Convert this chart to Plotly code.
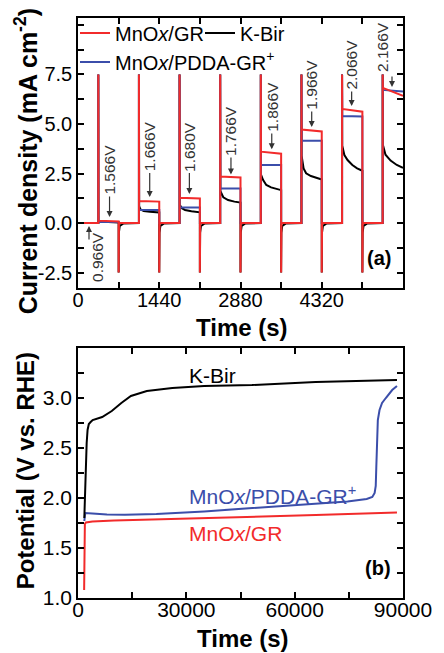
import plotly.graph_objects as go

RED = "#f22b2b"
BLUE = "#3b4eaa"
BLACK = "#000000"
GREY = "#333333"
FONT = "Liberation Sans, Arial, sans-serif"

# ---------------- (a) stepped-potential chronoamperometry ----------------
# time (s) / current density (mA cm^-2)
t_gr = [0, 360, 360, 363, 720, 720, 726, 1080,
        1080, 1083, 1440, 1440, 1446, 1800,
        1800, 1803, 2160, 2160, 2166, 2520,
        2520, 2523, 2880, 2880, 2886, 3240,
        3240, 3243, 3600, 3600, 3606, 3960,
        3960, 3963, 4320, 4320, 4326, 4680,
        4680, 4683, 5040, 5040, 5046, 5400,
        5400, 5403, 5760]
j_gr = [0.0, 0.0, 7.5, 0.12, 0.08, -2.5, 0.0, 0.0,
        7.5, 1.11, 1.08, -2.5, 0.0, 0.0,
        7.5, 1.27, 1.24, -2.5, 0.0, 0.0,
        7.5, 2.35, 2.30, -2.5, 0.0, 0.0,
        7.5, 3.60, 3.50, -2.5, 0.0, 0.0,
        7.5, 4.72, 4.62, -2.5, 0.0, 0.0,
        7.5, 5.76, 5.62, -2.5, 0.0, 0.0,
        7.5, 6.82, 6.42]

t_pdda = [0, 360, 360, 363, 720, 720, 1080,
          1080, 1083, 1440, 1440, 1800,
          1800, 1803, 2160, 2160, 2520,
          2520, 2523, 2880, 2880, 3240,
          3240, 3243, 3600, 3600, 3960,
          3960, 3963, 4320, 4320, 4680,
          4680, 4683, 5040, 5040, 5400,
          5400, 5403, 5760]
j_pdda = [0.0, 0.0, 7.5, 0.06, 0.05, 0.0, 0.0,
          7.5, 0.66, 0.66, 0.0, 0.0,
          7.5, 0.78, 0.78, 0.0, 0.0,
          7.5, 1.74, 1.74, 0.0, 0.0,
          7.5, 2.93, 2.93, 0.0, 0.0,
          7.5, 4.15, 4.15, 0.0, 0.0,
          7.5, 5.40, 5.38, 0.0, 0.0,
          7.5, 6.72, 6.64]

t_kbir = [0, 360, 360, 363, 720, 720, 724, 740, 800, 1080,
          1080, 1083, 1107, 1164, 1276, 1440, 1440, 1444, 1460, 1520, 1800,
          1800, 1803, 1841, 1897, 2010, 2160, 2160, 2164, 2180, 2240, 2520,
          2520, 2523, 2575, 2660, 2773, 2880, 2880, 2884, 2900, 2960, 3240,
          3240, 3243, 3281, 3337, 3422, 3600, 3600, 3604, 3620, 3680, 3960,
          3960, 3963, 3998, 4043, 4128, 4213, 4320, 4320, 4324, 4340, 4400, 4680,
          4680, 4683, 4721, 4777, 4862, 4947, 5040, 5040, 5044, 5060, 5120, 5400,
          5400, 5403, 5450, 5540, 5650, 5760]
j_kbir = [0.0, 0.0, 7.5, 0.08, 0.03, -2.5, -0.5, -0.15, -0.03, 0.0,
          7.5, 0.85, 0.69, 0.61, 0.57, 0.53, -2.5, -0.5, -0.15, -0.03, 0.0,
          7.5, 0.92, 0.74, 0.66, 0.59, 0.54, -2.5, -0.5, -0.15, -0.03, 0.0,
          7.5, 1.62, 1.30, 1.16, 1.08, 1.03, -2.5, -0.5, -0.15, -0.03, 0.0,
          7.5, 2.45, 2.17, 1.92, 1.80, 1.66, -2.5, -0.5, -0.15, -0.03, 0.0,
          7.5, 3.40, 2.76, 2.51, 2.37, 2.29, 2.20, -2.5, -0.5, -0.15, -0.03, 0.0,
          7.5, 3.90, 3.43, 3.18, 2.93, 2.76, 2.64, -2.5, -0.5, -0.15, -0.03, 0.0,
          7.5, 3.95, 3.45, 3.15, 2.93, 2.78]

# applied potentials and the plateau each arrow points at (time, current)
step_labels = ["0.966V", "1.566V", "1.666V", "1.680V", "1.766V",
               "1.866V", "1.966V", "2.066V", "2.166V"]
arrow_t = [195, 559, 1271, 1974, 2711, 3434, 4142, 4850, 5565]
arrow_j = [-0.15, 0.30, 1.31, 1.46, 2.45, 3.72, 4.85, 5.91, 6.87]

# ---------------- (b) chronopotentiometry ----------------
# time (s) / potential (V vs. RHE)
t_gr_b = [1700, 1700, 1750, 1900, 2200, 4000, 10000, 21700, 35000, 48180, 65820, 88330]
e_gr_b = [1.08, 1.40, 1.70, 1.74, 1.755, 1.765, 1.775, 1.785, 1.80, 1.815, 1.83, 1.855]

t_pdda_b = [1750, 1800, 2000, 4000, 8000, 13000, 21700, 34940, 48180, 61400, 74650,
            79940, 81500, 82150, 82450, 82600, 82750, 83030, 83500, 84200, 85240,
            87000, 88330]
e_pdda_b = [1.77, 1.85, 1.85, 1.845, 1.835, 1.832, 1.84, 1.866, 1.90, 1.93, 1.966,
            1.99, 2.01, 2.05, 2.12, 2.30, 2.55, 2.78, 2.88, 2.95, 3.00,
            3.08, 3.12]

t_kbir_b = [1750, 1900, 2150, 2400, 2650, 3000, 3500, 4060, 6700, 9350, 12000,
            14650, 19060, 26120, 34940, 48180, 65820, 88330]
e_kbir_b = [1.80, 2.05, 2.30, 2.55, 2.68, 2.74, 2.76, 2.78, 2.81, 2.87, 2.95,
            3.02, 3.07, 3.10, 3.12, 3.13, 3.16, 3.18]

GR_NAME = "MnO<i>x</i>/GR"
KBIR_NAME = "K-Bir"
PDDA_NAME = "MnO<i>x</i>/PDDA-GR<sup>+</sup>"

fig = go.Figure()

# panel (a): red drawn last so its spikes sit on top
fig.add_trace(go.Scatter(x=t_kbir, y=j_kbir, mode="lines", name=KBIR_NAME,
                         line=dict(color=BLACK, width=2), legendrank=2,
                         xaxis="x", yaxis="y"))
fig.add_trace(go.Scatter(x=t_pdda, y=j_pdda, mode="lines", name=PDDA_NAME,
                         line=dict(color=BLUE, width=2), legendrank=3,
                         xaxis="x", yaxis="y"))
fig.add_trace(go.Scatter(x=t_gr, y=j_gr, mode="lines", name=GR_NAME,
                         line=dict(color=RED, width=2), legendrank=1,
                         xaxis="x", yaxis="y"))

# panel (b)
fig.add_trace(go.Scatter(x=t_gr_b, y=e_gr_b, mode="lines", showlegend=False,
                         line=dict(color=RED, width=2), xaxis="x2", yaxis="y2"))
fig.add_trace(go.Scatter(x=t_pdda_b, y=e_pdda_b, mode="lines", showlegend=False,
                         line=dict(color=BLUE, width=2), xaxis="x2", yaxis="y2"))
fig.add_trace(go.Scatter(x=t_kbir_b, y=e_kbir_b, mode="lines", showlegend=False,
                         line=dict(color=BLACK, width=2), xaxis="x2", yaxis="y2"))

axis_common = dict(
    showline=True, linecolor="black", linewidth=1.5, mirror="allticks",
    ticks="inside", ticklen=6, tickwidth=1.5, tickcolor="black",
    showgrid=False, zeroline=False, ticklabeloverflow="allow",
)
minor_common = dict(tickmode="linear", ticks="inside", ticklen=6, tickwidth=1.5,
                    tickcolor="black")

fig.update_layout(
    width=444, height=653,
    margin=dict(l=78, r=26, t=18, b=55),
    paper_bgcolor="white", plot_bgcolor="white",
    font=dict(family=FONT, color="black", size=20),
    xaxis=dict(domain=[0, 1], anchor="y", range=[0, 5760],
               tickmode="array", tickvals=[0, 1440, 2880, 4320],
               minor=dict(tick0=0, dtick=720, **minor_common),
               tickfont=dict(size=20), ticklabelstandoff=-7, **axis_common),
    yaxis=dict(domain=[0.5345, 1], anchor="x", range=[-3.28, 10.35],
               tickmode="array", tickvals=[-2.5, 0, 2.5, 5, 7.5],
               ticktext=["-2.5", "0.0", "2.5", "5.0", "7.5"],
               minor=dict(tick0=-2.5, dtick=1.25, **minor_common),
               tickfont=dict(size=20), ticklabelstandoff=0, **axis_common),
    xaxis2=dict(domain=[0, 1], anchor="y2", range=[0, 90000],
                tickmode="array", tickvals=[0, 30000, 60000, 90000],
                ticktext=["0", "30000", "60000", "90000"],
                minor=dict(tick0=0, dtick=15000, **minor_common),
                tickfont=dict(size=21), ticklabelstandoff=-8, **axis_common),
    yaxis2=dict(domain=[0, 0.431], anchor="x2", range=[1.0, 3.5],
                tickmode="array", tickvals=[1.0, 1.5, 2.0, 2.5, 3.0],
                ticktext=["1.0", "1.5", "2.0", "2.5", "3.0"],
                minor=dict(tick0=1.0, dtick=0.25, **minor_common),
                tickfont=dict(size=21), ticklabelstandoff=0, **axis_common),
    legend=dict(orientation="h", x=0, xanchor="left", y=1.0078, yanchor="top",
                bgcolor="rgba(0,0,0,0)", borderwidth=0, indentation=-3,
                entrywidth=83, entrywidthmode="pixels",
                font=dict(size=20), traceorder="normal"),
)

annotations = []

# axis titles
title_font = dict(family=FONT, size=24, color="black")
annotations += [
    dict(text="<b>Current density (mA cm<sup>-2</sup>)</b>", xref="paper", yref="paper",
         x=-0.159, y=0.7534, textangle=-90, showarrow=False,
         xanchor="center", yanchor="middle", font=dict(family=FONT, size=25, color="black")),
    dict(text="<b>Time (s)</b>", xref="paper", yref="paper", x=0.506, y=0.4672,
         showarrow=False, xanchor="center", yanchor="middle", font=title_font),
    dict(text="<b>Potential (V vs. RHE)</b>", xref="paper", yref="paper",
         x=-0.159, y=0.219, textangle=-90, showarrow=False,
         xanchor="center", yanchor="middle", font=title_font),
    dict(text="<b>Time (s)</b>", xref="paper", yref="paper", x=0.509, y=-0.069,
         showarrow=False, xanchor="center", yanchor="middle", font=title_font),
]

# panel tags
annotations += [
    dict(text="<b>(a)</b>", xref="x", yref="y", x=5590, y=-1.77, showarrow=False,
         xanchor="right", yanchor="middle", font=dict(family=FONT, size=20, color="black")),
    dict(text="<b>(b)</b>", xref="x2", yref="y2", x=87353, y=1.30, showarrow=False,
         xanchor="right", yanchor="middle", font=dict(family=FONT, size=20, color="black")),
]

# applied-potential labels: rotated text sitting on a short arrow that points at the
# plateau (text offset in pixels from the arrow tip)
label_dx = [9, 0, 0, 0, 0, 0, 0, 0, -9.5]
label_dy = [31, -47, -50.5, -47.5, -43.5, -42.3, -42, -41, -39.5]
label_font = dict(family=FONT, size=15.5, color=GREY)
for i, (lab, at, aj) in enumerate(zip(step_labels, arrow_t, arrow_j)):
    dx, dy = label_dx[i], label_dy[i]
    if dx == 0:
        annotations.append(dict(
            text=lab, xref="x", yref="y", x=at, y=aj, ax=0, ay=dy,
            textangle=-90, showarrow=True, arrowhead=2, arrowsize=1,
            arrowwidth=1.2, arrowcolor=GREY, standoff=0, font=label_font))
    else:
        # label set beside its arrow: draw the arrow and the text separately
        tail = 15 if dy > 0 else -12
        annotations.append(dict(
            text="", xref="x", yref="y", x=at, y=aj, ax=0, ay=tail,
            showarrow=True, arrowhead=2, arrowsize=1,
            arrowwidth=1.2, arrowcolor=GREY, standoff=0))
        annotations.append(dict(
            text=lab, xref="x", yref="y", x=at, y=aj, xshift=dx, yshift=-dy,
            textangle=-90, showarrow=False, xanchor="center", yanchor="middle",
            font=label_font))

# curve labels in panel (b)
annotations += [
    dict(text=KBIR_NAME, xref="x2", yref="y2", x=30100, y=3.23, showarrow=False,
         xanchor="left", yanchor="middle", font=dict(family=FONT, size=21, color=BLACK)),
    dict(text=PDDA_NAME, xref="x2", yref="y2", x=30100, y=2.03, showarrow=False,
         xanchor="left", yanchor="middle", font=dict(family=FONT, size=21, color=BLUE)),
    dict(text=GR_NAME, xref="x2", yref="y2", x=30100, y=1.65, showarrow=False,
         xanchor="left", yanchor="middle", font=dict(family=FONT, size=21, color=RED)),
]

fig.update_layout(annotations=annotations)

fig.write_html("out.html")
